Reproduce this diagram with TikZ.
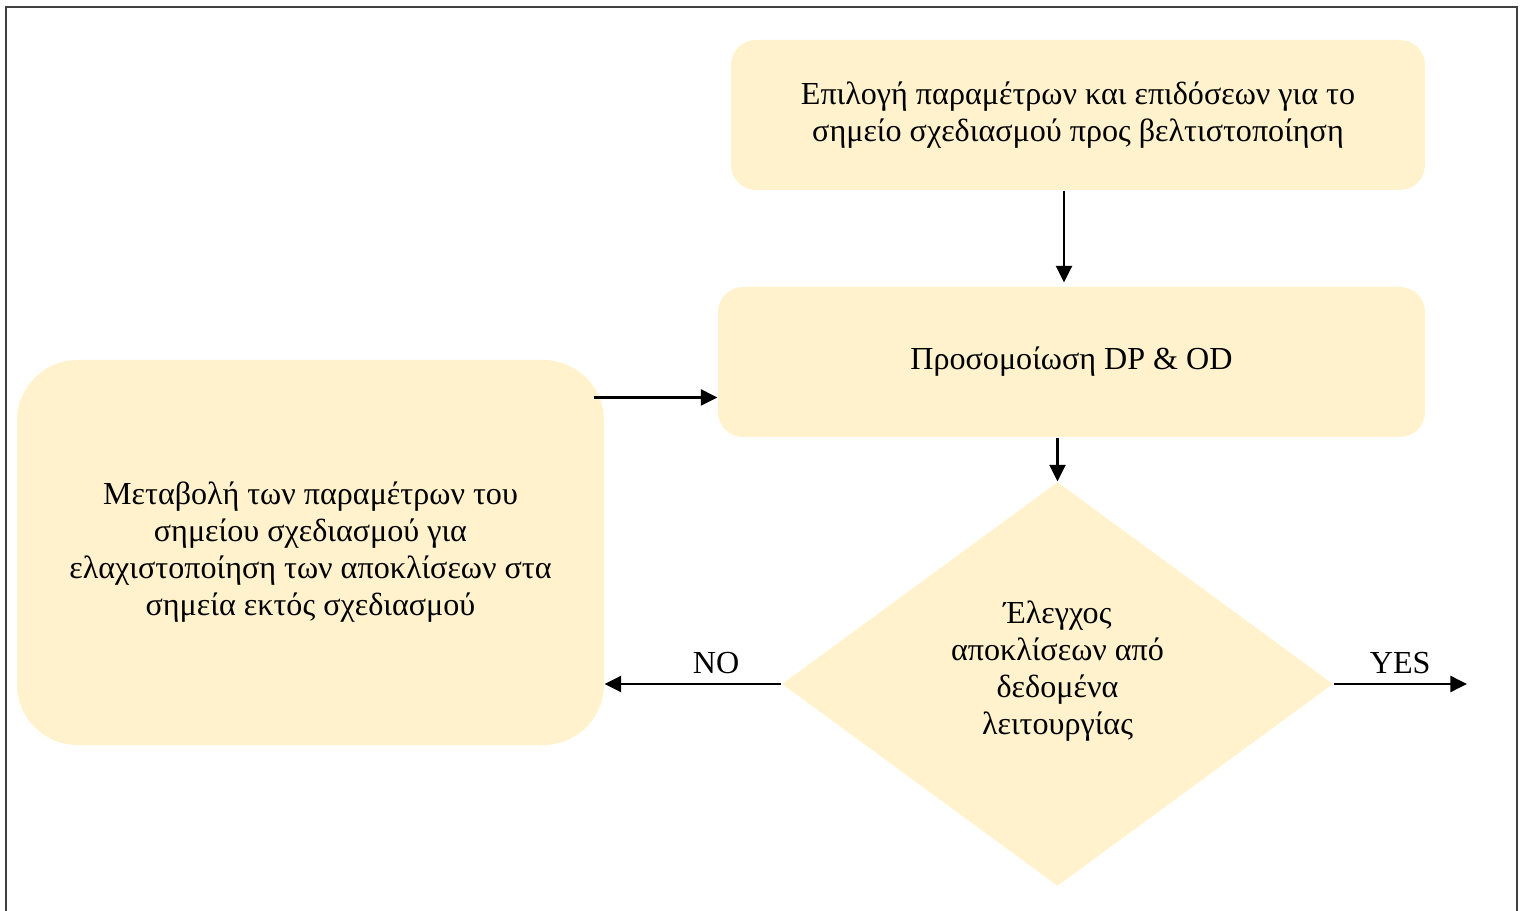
\documentclass[tikz,border=0pt]{standalone}
\usepackage{fontspec}
\setmainfont{Liberation Serif}
\usetikzlibrary{shapes.geometric,arrows.meta}
\definecolor{boxfill}{HTML}{FFF2CC}
\tikzset{
  box/.style={rectangle,rounded corners=9.5pt,fill=boxfill,align=center,inner sep=0pt},
  decision/.style={diamond,fill=boxfill,align=center,inner sep=0pt},
  arr/.style={line width=1.1pt,-{Triangle[length=6.3pt,width=6pt]}},
}

\begin{document}
\begin{tikzpicture}[x=0.38pt,y=-0.38pt,font=\fontsize{12.2}{14.05}\selectfont]
  \useasboundingbox (0,0) rectangle (1523,911);
  % frame
  \draw[line width=0.8pt,black!75] (6,930) -- (6,7) -- (1517,7) -- (1517,930);
  \node[box,minimum width=694*0.38pt,minimum height=150*0.38pt] (choose) at (1078,115)
    {Επιλογή παραμέτρων και επιδόσεων για το\\σημείο σχεδιασμού προς βελτιστοποίηση};
  \node[box,minimum width=707*0.38pt,minimum height=150*0.38pt] (sim) at (1071.5,362)
    {Προσομοίωση DP \& OD};
  \node[box,rounded corners=23pt,minimum width=587*0.38pt,minimum height=385*0.38pt] (vary) at (310.5,552.5)
    {Μεταβολή των παραμέτρων του\\σημείου σχεδιασμού για\\ελαχιστοποίηση των αποκλίσεων στα\\σημεία εκτός σχεδιασμού};
  \node[decision,text depth=12.5pt,minimum width=551*0.38pt,minimum height=404*0.38pt] (check) at (1057.5,684)
    {Έλεγχος\\αποκλίσεων από\\δεδομένα\\λειτουργίας};
  \coordinate (out) at (1467,684);
  % connectors
  \draw[arr] ([shift={(-14,0)}]choose.south) -- ([shift={(-7.5,-4)}]sim.north);
  \draw[arr] ([shift={(-11,38)}]vary.north east) -- ([shift={(0,111)}]sim.north west);
  \draw[arr] (check.north |- sim.south) -- (check.north);
  \draw[arr] (check.west) -- node[above,pos=0.37]{NO} (vary.east |- check.west);
  \draw[arr] (check.east) -- node[above]{YES} (out);
\end{tikzpicture}
\end{document}
